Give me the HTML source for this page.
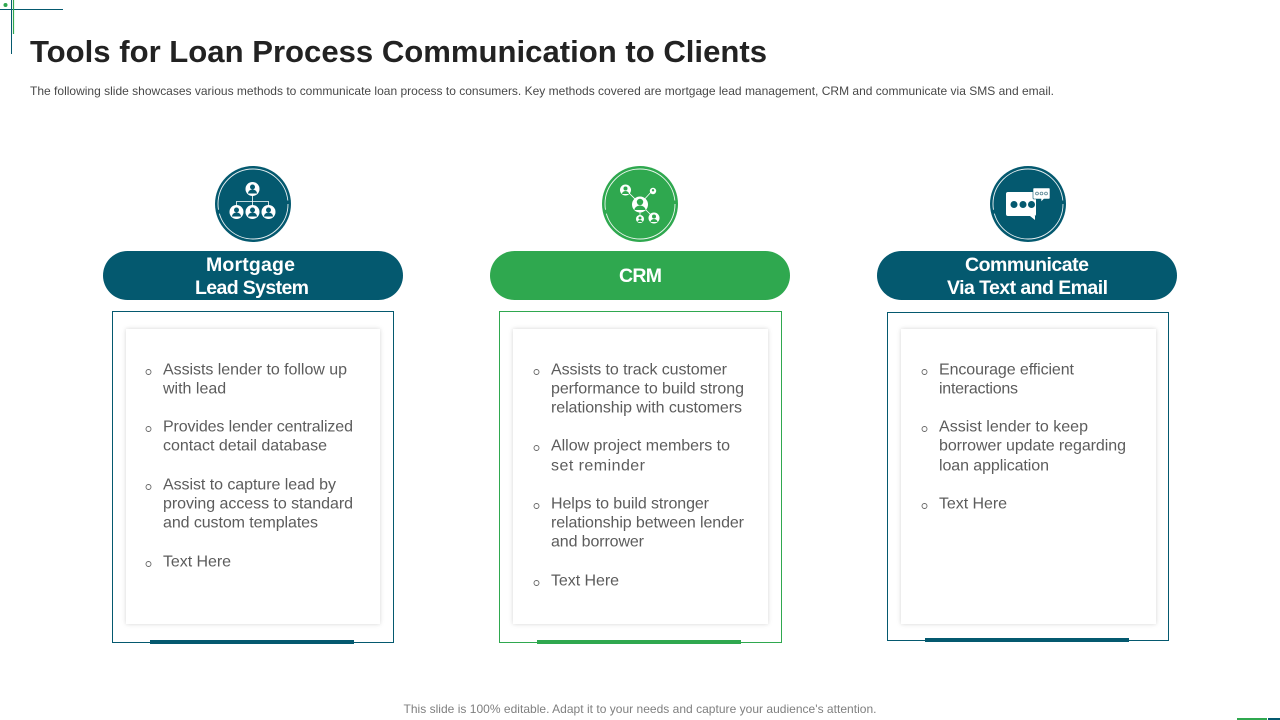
<!DOCTYPE html>
<html lang="en"><head><meta charset="utf-8"><title>Tools for Loan Process Communication to Clients</title>
<style>
html,body{margin:0;padding:0;background:#fff;width:1280px;height:720px;overflow:hidden}
svg{display:block}
text{font-family:"Liberation Sans",sans-serif}
.b{font-size:16px;fill:#5c5c5c}
.h{font-size:19.500px;font-weight:bold;fill:#fff;text-anchor:middle}
.d{fill:none;stroke:#666;stroke-width:.9}
.r{fill:none;stroke:#fff;stroke-width:.9;stroke-dasharray:100 4 112 4;opacity:.9}
</style></head><body>
<svg width="1280" height="720" viewBox="0 0 1280 720" xmlns="http://www.w3.org/2000/svg">
<defs>
<filter id="s" x="-5%" y="-5%" width="110%" height="110%"><feDropShadow dx="0" dy="0" stdDeviation="2.200" flood-color="#000" flood-opacity=".17"/></filter>
</defs>
<!-- corner marks -->
<path d="M0 9.500H63M11.500 0V54" stroke="#04596f" stroke-width="1" fill="none"/>
<path d="M13.500 0V34" stroke="#2fa84f" stroke-width="1.200" fill="none"/>
<circle cx="5.500" cy="5" r="2" fill="#2fa84f"/>
<rect x="1237" y="718" width="30" height="2" fill="#2fa84f"/><rect x="1268" y="718" width="12" height="2" fill="#04596f"/>

<text x="30" y="62" font-size="31" font-weight="bold" fill="#222" textLength="737" lengthAdjust="spacingAndGlyphs">Tools for Loan Process Communication to Clients</text>
<text x="30" y="95" font-size="12" fill="#484848" textLength="1024" lengthAdjust="spacing">The following slide showcases various methods to communicate loan process to consumers. Key methods covered are mortgage lead management, CRM and communicate via SMS and email.</text>
<text x="640" y="713" font-size="12" fill="#7f7f7f" text-anchor="middle" textLength="473" lengthAdjust="spacing">This slide is 100% editable. Adapt it to your needs and capture your audience's attention.</text>

<!-- Circles -->
<circle cx="253" cy="204" r="38" fill="#04596f"/><circle class="r" cx="253" cy="204" r="35"/>
<circle cx="640" cy="204" r="38" fill="#2fa84f"/><circle class="r" cx="640" cy="204" r="35"/>
<circle cx="1028" cy="204" r="38" fill="#04596f"/><circle class="r" cx="1028" cy="204" r="35"/>

<!-- Icon 1 -->
<path d="M252.500 194V206M236.500 208V201.500H268.500V208" stroke="#fff" stroke-width=".8" fill="none"/>
<circle cx="252.500" cy="189" r="7" fill="#fff"/><circle cx="252.500" cy="187" r="2.500" fill="#04596f"/><path d="M248 193.500a4.500 4 0 0 1 9 0z" fill="#04596f"/>
<circle cx="236.500" cy="212" r="7" fill="#fff"/><circle cx="236.500" cy="210" r="2.500" fill="#04596f"/><path d="M232 216.500a4.500 4 0 0 1 9 0z" fill="#04596f"/>
<circle cx="252.500" cy="212" r="7" fill="#fff"/><circle cx="252.500" cy="210" r="2.500" fill="#04596f"/><path d="M248 216.500a4.500 4 0 0 1 9 0z" fill="#04596f"/>
<circle cx="268.500" cy="212" r="7" fill="#fff"/><circle cx="268.500" cy="210" r="2.500" fill="#04596f"/><path d="M264 216.500a4.500 4 0 0 1 9 0z" fill="#04596f"/>

<!-- Icon 2 -->
<path d="M626 190L640 204L653 190M640 204V218M640 204L654 218" stroke="#fff" stroke-width=".8" fill="none"/>
<circle cx="625.500" cy="190" r="5.500" fill="#fff"/><circle cx="625.500" cy="188.500" r="2" fill="#2fa84f"/><path d="M622 194a3.500 3 0 0 1 7 0z" fill="#2fa84f"/>
<circle cx="653" cy="191" r="3.200" fill="#fff"/><circle cx="653" cy="190.300" r="1.200" fill="#2fa84f"/>
<circle cx="640" cy="204.500" r="8" fill="#fff"/><circle cx="640" cy="202" r="3.200" fill="#2fa84f"/><path d="M634.500 210a5.500 4.500 0 0 1 11 0z" fill="#2fa84f"/>
<circle cx="640" cy="219" r="4" fill="#fff"/><circle cx="640" cy="218" r="1.500" fill="#2fa84f"/><path d="M637.500 222a2.500 2 0 0 1 5 0z" fill="#2fa84f"/>
<circle cx="654" cy="218" r="5.500" fill="#fff"/><circle cx="654" cy="216.500" r="2" fill="#2fa84f"/><path d="M650.500 222a3.500 3 0 0 1 7 0z" fill="#2fa84f"/>

<!-- Icon 3 -->
<path d="M1008 192H1034Q1036 192 1036 194V214Q1036 216 1034 216H1035V220L1030 216H1008Q1006 216 1006 214V194Q1006 192 1008 192Z" fill="#fff"/>
<circle cx="1014" cy="204.500" r="3.500" fill="#04596f"/><circle cx="1023" cy="204.500" r="3.500" fill="#04596f"/><circle cx="1031.500" cy="204.500" r="3.500" fill="#04596f"/>
<path d="M1034 188H1049Q1050 188 1050 189V198Q1050 199 1049 199H1044L1041 202V199H1034Q1033 199 1033 198V189Q1033 188 1034 188Z" fill="#fff" stroke="#04596f" stroke-width=".6"/>
<circle cx="1037" cy="193.500" r="1.400" fill="#fff" stroke="#52808f" stroke-width=".8"/><circle cx="1041.500" cy="193.500" r="1.400" fill="#fff" stroke="#52808f" stroke-width=".8"/><circle cx="1046" cy="193.500" r="1.400" fill="#fff" stroke="#52808f" stroke-width=".8"/>

<!-- Pills -->
<rect x="103" y="251" width="300" height="49" rx="24.500" fill="#04596f"/>
<rect x="490" y="251" width="300" height="49" rx="24.500" fill="#2fa84f"/>
<rect x="877" y="251" width="300" height="49" rx="24.500" fill="#04596f"/>
<text class="h" x="250.500" y="271" textLength="89" lengthAdjust="spacing">Mortgage</text>
<text class="h" x="252" y="294" textLength="114" lengthAdjust="spacing">Lead System</text>
<text class="h" x="640.500" y="282" textLength="43" lengthAdjust="spacing">CRM</text>
<text class="h" x="1027" y="271" textLength="124" lengthAdjust="spacing">Communicate</text>
<text class="h" x="1027.500" y="294" textLength="161" lengthAdjust="spacing">Via Text and Email</text>

<!-- Boxes -->
<rect x="112.500" y="311.500" width="281" height="331" fill="#fff" stroke="#04596f"/>
<rect x="499.500" y="311.500" width="282" height="331" fill="#fff" stroke="#2fa84f"/>
<rect x="887.500" y="312.500" width="281" height="328" fill="#fff" stroke="#04596f"/>
<rect x="126" y="329" width="254" height="295" fill="#fff" filter="url(#s)"/>
<rect x="513" y="329" width="255" height="295" fill="#fff" filter="url(#s)"/>
<rect x="901" y="329" width="255" height="295" fill="#fff" filter="url(#s)"/>
<rect x="150" y="640" width="204" height="4" fill="#04596f"/>
<rect x="537" y="640" width="204" height="4" fill="#2fa84f"/>
<rect x="925" y="638" width="204" height="4" fill="#04596f"/>

<!-- Column 1 -->
<circle class="d" cx="148.500" cy="372" r="2.500"/>
<text class="b" x="163" y="374.500" textLength="184" lengthAdjust="spacing">Assists lender to follow up</text>
<text class="b" x="163" y="393.500">with lead</text>
<circle class="d" cx="148.500" cy="429" r="2.500"/>
<text class="b" x="163" y="431.500" textLength="190" lengthAdjust="spacing">Provides lender centralized</text>
<text class="b" x="163" y="450.500" textLength="164" lengthAdjust="spacing">contact detail database</text>
<circle class="d" cx="148.500" cy="487" r="2.500"/>
<text class="b" x="163" y="489.500" textLength="173" lengthAdjust="spacing">Assist to capture lead by</text>
<text class="b" x="163" y="508.500" textLength="190" lengthAdjust="spacing">proving access to standard</text>
<text class="b" x="163" y="527.500" textLength="155" lengthAdjust="spacing">and custom templates</text>
<circle class="d" cx="148.500" cy="564" r="2.500"/>
<text class="b" x="163" y="566.500" textLength="68" lengthAdjust="spacing">Text Here</text>

<!-- Column 2 -->
<circle class="d" cx="536.500" cy="372" r="2.500"/>
<text class="b" x="551" y="374.500" textLength="176" lengthAdjust="spacing">Assists to track customer</text>
<text class="b" x="551" y="393.500" textLength="193" lengthAdjust="spacing">performance to build strong</text>
<text class="b" x="551" y="412.500" textLength="191" lengthAdjust="spacing">relationship with customers</text>
<circle class="d" cx="536.500" cy="448" r="2.500"/>
<text class="b" x="551" y="450.500" textLength="179" lengthAdjust="spacing">Allow project members to</text>
<text class="b" x="551" y="470.500" textLength="94" lengthAdjust="spacing">set reminder</text>
<circle class="d" cx="536.500" cy="506" r="2.500"/>
<text class="b" x="551" y="508.500" textLength="158" lengthAdjust="spacing">Helps to build stronger</text>
<text class="b" x="551" y="527.500" textLength="193" lengthAdjust="spacing">relationship between lender</text>
<text class="b" x="551" y="546.500" textLength="93" lengthAdjust="spacing">and borrower</text>
<circle class="d" cx="536.500" cy="583" r="2.500"/>
<text class="b" x="551" y="585.500" textLength="68" lengthAdjust="spacing">Text Here</text>

<!-- Column 3 -->
<circle class="d" cx="924.500" cy="372" r="2.500"/>
<text class="b" x="939" y="374.500" textLength="135" lengthAdjust="spacing">Encourage efficient</text>
<text class="b" x="939" y="393.500" textLength="79" lengthAdjust="spacing">interactions</text>
<circle class="d" cx="924.500" cy="429" r="2.500"/>
<text class="b" x="939" y="431.500" textLength="149" lengthAdjust="spacing">Assist lender to keep</text>
<text class="b" x="939" y="450.500" textLength="187" lengthAdjust="spacing">borrower update regarding</text>
<text class="b" x="939" y="470.500" textLength="110" lengthAdjust="spacing">loan application</text>
<circle class="d" cx="924.500" cy="506" r="2.500"/>
<text class="b" x="939" y="508.500" textLength="68" lengthAdjust="spacing">Text Here</text>
</svg>
</body></html>
